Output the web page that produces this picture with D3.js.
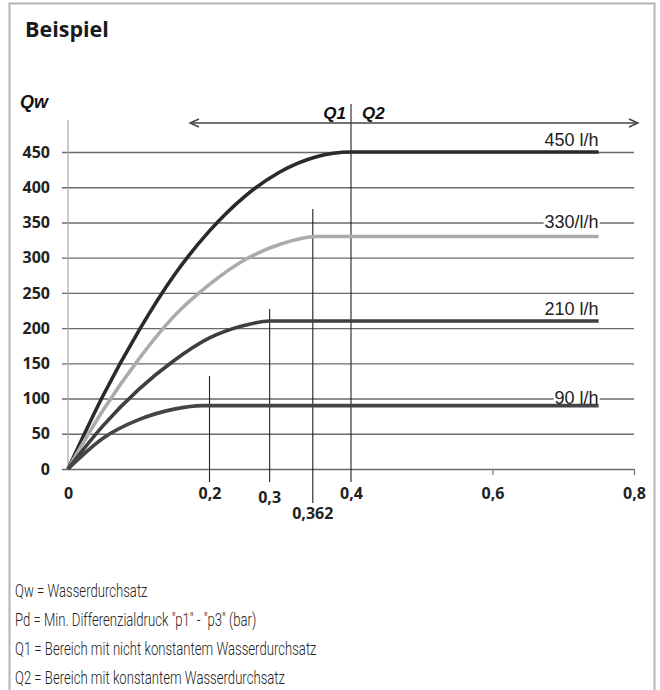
<!DOCTYPE html>
<html><head><meta charset="utf-8">
<script src="https://cdn.jsdelivr.net/npm/d3@7/dist/d3.min.js"></script>
<style>
html,body{margin:0;padding:0;background:#fff;}
svg{display:block;}
</style></head>
<body>
<script>
// ---- data ----
const xTickValues = [0, 0.2, 0.4, 0.6, 0.8];
const xTickLabels = ["0", "0,2", "0,4", "0,6", "0,8"];
const yTickValues = [0, 50, 100, 150, 200, 250, 300, 350, 400, 450];
const seriesNames = ["450 l/h", "330/l/h", "210 l/h", "90 l/h"];
const seriesMax = [450, 330, 210, 90];
const s450 = [[0,0],[0.05,105],[0.1,196],[0.15,275],[0.2,338],[0.25,387],[0.3,422],[0.35,443],[0.4,450],[0.75,450]];
const s330 = [[0,0],[0.05,84],[0.1,156],[0.15,217],[0.2,262],[0.25,297],[0.3,319],[0.35,330],[0.75,330]];
const s210 = [[0,0],[0.05,62],[0.1,113],[0.15,154],[0.2,186],[0.25,204],[0.285,210],[0.75,210]];
const s90  = [[0,0],[0.05,44],[0.1,70],[0.15,85],[0.19,90],[0.75,90]];
const markerValues = [0.2, 0.285, 0.346, 0.4];
const markerLabels = ["", "0,3", "0,362", ""];
const markerTops = [132, 227, 369, 518];
const legendLines = [
  "Qw = Wasserdurchsatz",
  "Pd = Min. Differenzialdruck \"p1\" - \"p3\" (bar)",
  "Q1 = Bereich mit nicht konstantem Wasserdurchsatz",
  "Q2 = Bereich mit konstantem Wasserdurchsatz"
];

const W = 660, H = 690;
const svg = d3.select("body").append("svg").attr("width", W).attr("height", H);

// frame
svg.append("rect").attr("x", 9.5).attr("y", 3.5).attr("width", 645).attr("height", 700)
  .attr("fill", "none").attr("stroke", "#b4b4b4").attr("stroke-width", 2);

svg.append("text").attr("x", 25).attr("y", 36.5).text("Beispiel")
  .attr("font-family", "Open Sans").attr("font-weight", 700).attr("font-size", 21.5).attr("fill", "#1a1a1a");

const x = d3.scaleLinear().domain([0, 0.8]).range([68, 634]);
const y = d3.scaleLinear().domain([0, 450]).range([469, 152]);

const tickFont = sel => sel.attr("font-family", "Open Sans").attr("font-weight", 700).attr("font-size", 16).attr("fill", "#222");

// gridlines
const grid = svg.append("g").attr("transform", "translate(62,0)")
  .call(d3.axisRight(y).tickValues(yTickValues).tickSize(x(0.8) - 62).tickFormat(""));
grid.select(".domain").remove();
grid.selectAll("line").attr("stroke", "#6a6a6a").attr("stroke-width", 1.4);

// y axis line
svg.append("line").attr("x1", x(0)).attr("x2", x(0)).attr("y1", 120).attr("y2", y(0))
  .attr("stroke", "#a8a8a8").attr("stroke-width", 1.2);

// y labels
const yl = svg.append("g").attr("transform", "translate(62,0)")
  .call(d3.axisLeft(y).tickValues(yTickValues).tickSize(0).tickPadding(12));
yl.select(".domain").remove();
yl.selectAll("text").call(tickFont);

// x axis ticks (only 0.6 and 0.8 visible)
const xa = svg.append("g").attr("transform", `translate(0,${y(0)})`)
  .call(d3.axisBottom(x).tickValues(xTickValues).tickSize(6).tickFormat((d, i) => xTickLabels[i]).tickPadding(13));
xa.select(".domain").remove();
xa.selectAll(".tick line").attr("stroke", (d) => d > 0.5 ? "#777" : "none").attr("stroke-width", 1.2);
xa.selectAll("text").call(tickFont);

// marker lines
markerValues.forEach((v, i) => {
  const bottom = i === 2 ? y(0) + 34 : y(0) + 13;
  svg.append("line").attr("x1", x(v)).attr("x2", x(v)).attr("y1", y(markerTops[i])).attr("y2", bottom)
    .attr("stroke", "#222").attr("stroke-width", 1.1);
  if (markerLabels[i]) {
    svg.append("text").attr("x", x(v)).attr("y", i === 2 ? y(0) + 50 : y(0) + 34)
      .attr("text-anchor", "middle").text(markerLabels[i]).call(tickFont);
  }
});

// curves
const seriesData = [s450, s330, s210, s90];
const seriesColors = ["#2a2a2a", "#ababab", "#3f3f3f", "#454545"];
const line = d3.line().x(d => x(d[0])).y(d => y(d[1])).curve(d3.curveMonotoneX);
seriesData.forEach((s, i) => {
  svg.append("path").datum(s).attr("d", line).attr("fill", "none")
    .attr("stroke", seriesColors[i]).attr("stroke-width", 3.6).attr("stroke-linecap", "butt");
});

// series labels
const labelY = [y(450) - 6, y(350) + 6, y(210) - 6, y(100) + 5];
const maskAt = [null, 350, null, 100];
seriesNames.forEach((n, i) => {
  const t = svg.append("text").attr("x", x(0.75)).attr("y", labelY[i]).attr("text-anchor", "end")
    .text(n).attr("font-family", "Liberation Sans").attr("font-size", 18).attr("fill", "#222");
  if (maskAt[i] !== null) {
    const bb = t.node().getBBox();
    svg.insert("rect", () => t.node()).attr("x", bb.x - 1).attr("y", y(maskAt[i]) - 2)
      .attr("width", bb.width + 2).attr("height", 4).attr("fill", "#fff");
  }
});

// Q1 / Q2 arrow
const ay = 123;
svg.append("line").attr("x1", 190).attr("x2", 638).attr("y1", ay).attr("y2", ay)
  .attr("stroke", "#444").attr("stroke-width", 1.4);
svg.append("path").attr("d", `M199,${ay-4} L190,${ay} L199,${ay+4}`).attr("fill", "none").attr("stroke", "#444").attr("stroke-width", 1.4);
svg.append("path").attr("d", `M629,${ay-4} L638,${ay} L629,${ay+4}`).attr("fill", "none").attr("stroke", "#444").attr("stroke-width", 1.4);
const labFont = sel => sel.attr("font-family", "Liberation Sans").attr("font-weight", 700).attr("font-style", "italic").attr("font-size", 17).attr("fill", "#111");
svg.append("text").attr("x", x(0.4) - 5).attr("y", 119).attr("text-anchor", "end").text("Q1").call(labFont);
svg.append("text").attr("x", x(0.4) + 11).attr("y", 119).text("Q2").call(labFont);
svg.append("text").attr("x", 20).attr("y", 108).text("Qw").call(labFont).attr("font-size", 18);

// legend text
const lg = svg.append("g").attr("transform", "translate(15,0) scale(0.71,1)");
legendLines.forEach((l, i) => {
  lg.append("text").attr("x", 0).attr("y", 597 + i * 29).text(l)
    .attr("font-family", "Roboto").attr("font-weight", 300).attr("font-size", 18.5).attr("fill", "#222");
});
</script>
</body></html>
